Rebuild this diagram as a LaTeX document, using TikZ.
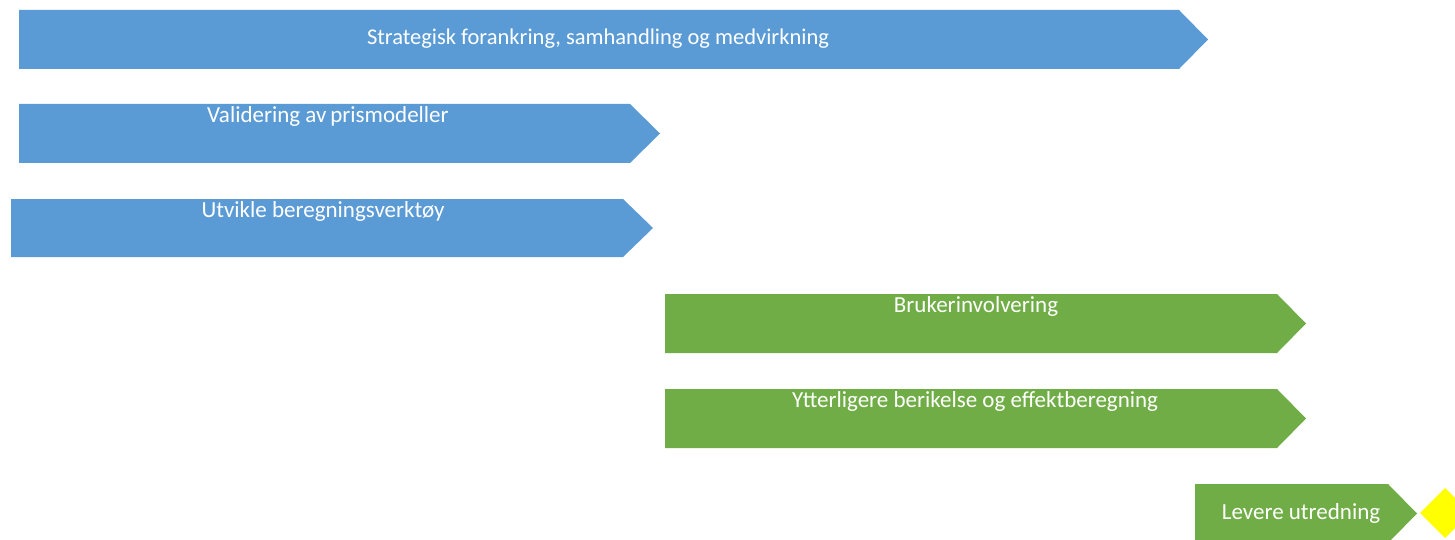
\documentclass[tikz,border=0pt]{standalone}
\usepackage{fontspec}
\setmainfont{Carlito}
\begin{document}
\begin{tikzpicture}[x=1pt,y=-1pt]
\definecolor{cblue}{HTML}{5B9BD5}
\definecolor{cgreen}{HTML}{70AD47}
\definecolor{cyel}{HTML}{FFFF00}
\tikzset{lbl/.style={text=white,font=\fontsize{23}{27}\selectfont,inner sep=0pt,anchor=center}}
\useasboundingbox (0,0) rectangle (1455,540);
\fill[white] (0,0) rectangle (1455,540);
% shape 1
\fill[cblue] (19,10) -- (1179,10) -- (1208,39.5) -- (1179,69) -- (19,69) -- cycle;
\node[lbl,font=\fontsize{22.5}{27}\selectfont] (t1) at (598,39) {Strategisk forankring, samhandling og medvirkning};
% shape 2
\fill[cblue] (19,104) -- (630,104) -- (660,133.5) -- (630,163) -- (19,163) -- cycle;
\node[lbl] (t2) at (328,116) {Validering av\,prismodeller};
% shape 3
\fill[cblue] (11,199) -- (623,199) -- (653,228) -- (623,257) -- (11,257) -- cycle;
\node[lbl] (t3) at (323,211) {Utvikle beregningsverktøy};
% shape 4
\fill[cgreen] (665,294) -- (1277,294) -- (1306,323.5) -- (1277,353) -- (665,353) -- cycle;
\node[lbl] (t4) at (976,306) {Brukerinvolvering};
% shape 5
\fill[cgreen] (665,389) -- (1277,389) -- (1306,418.5) -- (1277,448) -- (665,448) -- cycle;
\node[lbl] (t5) at (975,401) {Ytterligere berikelse og effektberegning};
% shape 6
\fill[cgreen] (1195,484) -- (1388,484) -- (1417,513.5) -- (1388,543) -- (1195,543) -- cycle;
\node[lbl] (t6) at (1301,513) {Levere utredning};
% milestone diamond
\fill[cyel] (1420,513) -- (1445,488) -- (1470,513) -- (1445,538) -- cycle;
\end{tikzpicture}
\end{document}
